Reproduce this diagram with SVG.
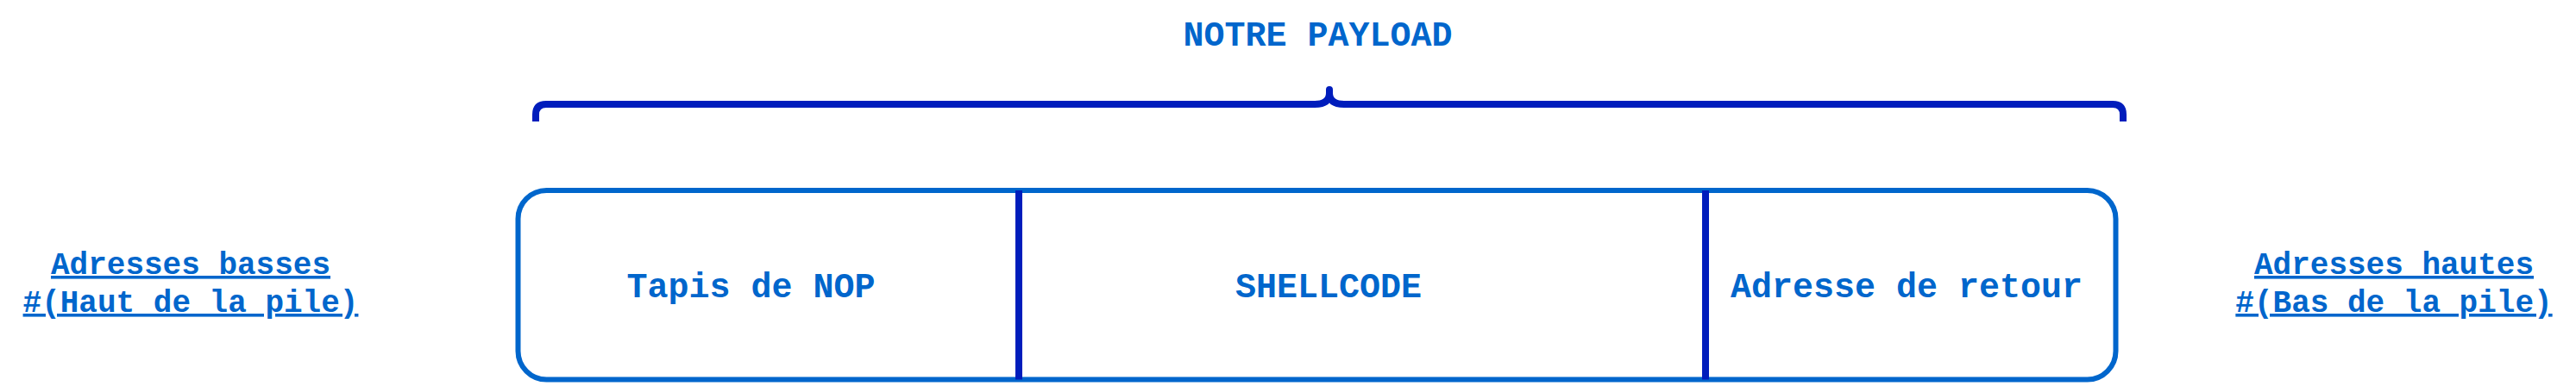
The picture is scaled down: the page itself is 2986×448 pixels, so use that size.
<svg xmlns="http://www.w3.org/2000/svg" width="2986" height="448" viewBox="0 0 2986 448">
<style>
.t{font-family:"Liberation Mono","Courier New",monospace;font-weight:bold;fill:#0066CC;text-anchor:middle}
.big{font-size:40px}
.side{font-size:36px;text-decoration:underline}
.div{stroke:#001DBC;stroke-width:8;fill:none}
</style>
<rect width="2986" height="448" fill="#ffffff"/>
<g id="title"><text class="t big" x="1527.5" y="53">NOTRE PAYLOAD</text></g>
<g id="brace"><path d="M621,141 V133 Q621,121 633,121 H1524 Q1541,121 1541,108 V104 V108 Q1541,121 1558,121 H2449 Q2461,121 2461,133 V141" fill="none" stroke="#001DBC" stroke-width="8" stroke-linejoin="round"/></g>
<g id="payload">
<rect x="600.5" y="221" width="1852" height="219.5" rx="33" ry="33" fill="#ffffff" stroke="#0066CC" stroke-width="6"/>
</g>
<g id="connectors">
<line class="div" x1="1181" y1="221" x2="1181" y2="440.5"/>
<line class="div" x1="1977" y1="221" x2="1977" y2="440.5"/>
</g>
<g id="nop"><text class="t big" x="870.5" y="345">Tapis de NOP</text></g>
<g id="shellcode"><text class="t big" x="1540" y="345">SHELLCODE</text></g>
<g id="retour"><text class="t big" x="2210" y="345">Adresse de retour</text></g>
<g id="basses"><text class="t side" x="221" y="318">Adresses basses</text><text class="t side" x="221" y="362">#(Haut de la pile)</text></g>
<g id="hautes"><text class="t side" x="2775" y="318">Adresses hautes</text><text class="t side" x="2775" y="362">#(Bas de la pile)</text></g>
</svg>
